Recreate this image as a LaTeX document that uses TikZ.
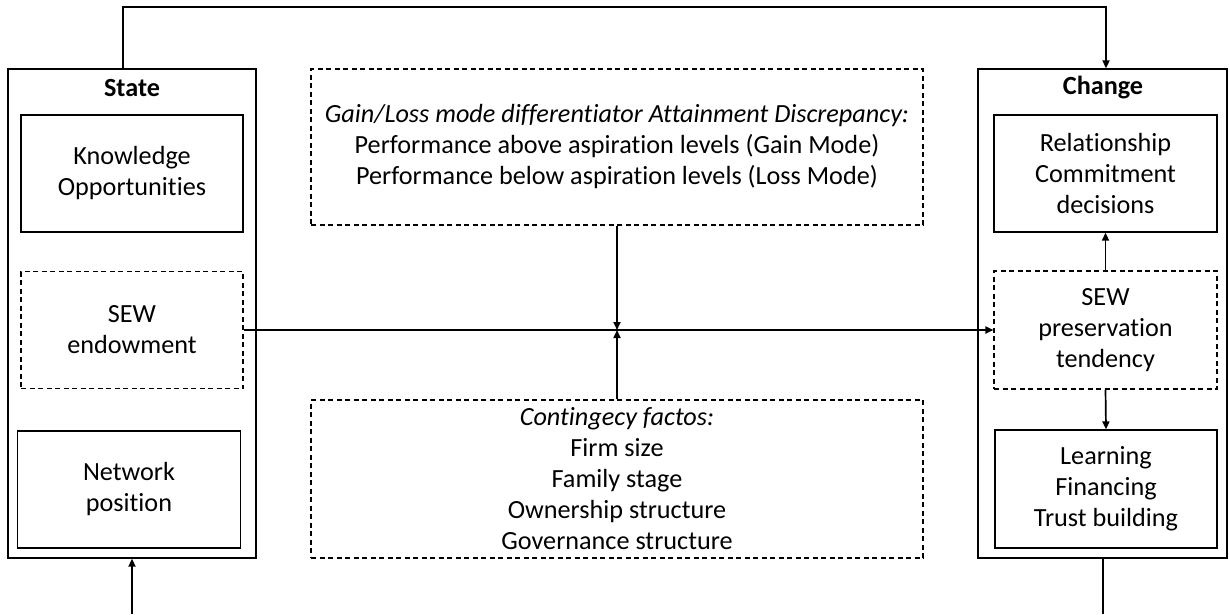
\documentclass[tikz,border=0pt]{standalone}
\usepackage{fontspec}
\setmainfont{Carlito}[Ligatures=NoCommon]
\usetikzlibrary{arrows.meta}
\begin{document}
\begin{tikzpicture}[x=1pt,y=-1pt,
  every node/.style={font=\fontsize{26.2}{31}\selectfont, align=center, inner sep=0pt},
  solidbox/.style={draw, line width=1.3pt},
  dashbox/.style={draw, line width=1.1pt, dash pattern=on 5pt off 3.5pt},
  conn/.style={line width=1.7pt},
  arr/.style={conn, -{Triangle[length=8pt,width=7pt]}},
  ttl/.style={font=\fontsize{26.2}{31}\selectfont\bfseries}
]
\useasboundingbox (0,0) rectangle (1230,614);

% outer boxes
\node[solidbox, minimum width=248pt, minimum height=489pt] (state) at (132,313.5) {};
\node[ttl] (statelbl) at (132,88) {State};
\node[solidbox, minimum width=249pt, minimum height=489pt] (change) at (1102.5,313.5) {};
\node[ttl] (changelbl) at (1103,88) {Change};

% state inner boxes
\node[solidbox, minimum width=222pt, minimum height=117pt] (know) at (132,173.5) {Knowledge\\Opportunities};
\node[dashbox, minimum width=222pt, minimum height=117pt] (sewe) at (132,330) {SEW\\endowment};
\node[solidbox, minimum width=223pt, minimum height=117pt] (net) at (129,489.5) {Network\\position};

% change inner boxes
\node[solidbox, minimum width=223pt, minimum height=117pt] (rel) at (1105.5,173.5) {Relationship\\Commitment\\decisions};
\node[dashbox, minimum width=223pt, minimum height=118pt] (pres) at (1105.5,330) {SEW\\preservation\\tendency};
\node[solidbox, minimum width=222pt, minimum height=118pt] (learn) at (1106,489) {Learning\\Financing\\Trust building};

% middle boxes
\node[dashbox, minimum width=612pt, minimum height=156pt] (gain) at (617,147)
  {\textit{Gain/Loss mode differentiator Attainment Discrepancy:}\\Performance above aspiration levels (Gain Mode)\\Performance below aspiration levels (Loss Mode)};
\node[dashbox, minimum width=612pt, minimum height=158pt] (cont) at (617,479)
  {\textit{Contingecy factos:}\\Firm size\\Family stage\\Ownership structure\\Governance structure};

% connectors
\coordinate (meet) at (gain.south |- sewe.east);
\draw[arr] (sewe.east) -- (pres.west);
\draw[arr] (gain.south) -- (meet);
\draw[arr] (cont.north) -- (meet);
\draw[arr] (pres.north) -- (rel.south);
\draw[arr] (pres.south) -- (learn.north);

\coordinate (topl) at (123,7);
\coordinate (topr) at (1106,7);
\draw[arr] (state.north -| topl) -- (topl) -- (topr) -- (change.north -| topr);

\coordinate (botl) at (132,614);
\coordinate (botr) at (1103,614);
\draw[arr] (botl) -- (state.south);
\draw[conn] (change.south -| botr) -- (botr);
\end{tikzpicture}
\end{document}
